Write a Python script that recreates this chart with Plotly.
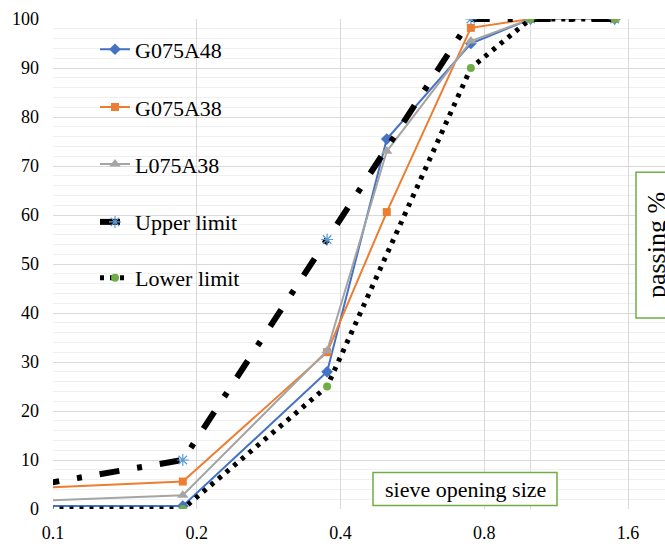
import math
import plotly.graph_objects as go

# sieve openings (x) and percent passing (y)
sieve = [0.0937, 0.187, 0.375, 0.5, 0.75, 1.0, 1.5]
g075a48 = [0.6, 0.6, 28, 75.5, 95, 100, 100]
g075a38 = [4.3, 5.6, 32, 60.6, 98.2, 100, 100]
l075a38 = [1.7, 2.8, 32.3, 73, 95.5, 100, 100]
limit_sieve = [0.0937, 0.187, 0.375, 0.75, 1.0, 1.5]
upper_limit = [5, 10, 55, 100, 100, 100]
lower_limit = [0, 0, 25, 90, 100, 100]

x_ticks = [0.1, 0.2, 0.4, 0.8, 1.6]
x_ticktext = ["0.1", "0.2", "0.4", "0.8", "1.6"]
y_ticks = list(range(0, 101, 10))

SERIF = "Times New Roman"

fig = go.Figure()
fig.add_trace(go.Scatter(x=sieve, y=g075a48, name="G075A48", mode="lines+markers",
                         line=dict(color="#4472C4", width=2),
                         marker=dict(symbol="diamond", size=9, color="#4472C4"),
                         legend="legend"))
fig.add_trace(go.Scatter(x=sieve, y=g075a38, name="G075A38", mode="lines+markers",
                         line=dict(color="#ED7D31", width=2),
                         marker=dict(symbol="square", size=8, color="#ED7D31"),
                         legend="legend2"))
fig.add_trace(go.Scatter(x=sieve, y=l075a38, name="L075A38", mode="lines+markers",
                         line=dict(color="#A5A5A5", width=2),
                         marker=dict(symbol="triangle-up", size=10, color="#A5A5A5"),
                         legend="legend3"))
fig.add_trace(go.Scatter(x=limit_sieve, y=upper_limit, name="Upper limit", mode="lines+markers",
                         line=dict(color="black", width=6, dash="20px,18px,5px,18px"),
                         marker=dict(symbol="asterisk-open", size=10, color="#5B9BD5",
                                     line=dict(color="#5B9BD5", width=1.2)),
                         legend="legend4"))
fig.add_trace(go.Scatter(x=limit_sieve, y=lower_limit, name="Lower limit", mode="lines+markers",
                         line=dict(color="black", width=5, dash="4px,6px"),
                         marker=dict(symbol="circle", size=8, color="#70AD47"),
                         legend="legend5"))

W, H = 665, 548
L, T, B, R = 53, 18.5, 38.5, 0
pw = W - L - R
ph = H - T - B

px_per_doubling = 143.75
x0 = math.log10(0.1)
x1 = x0 + (pw / px_per_doubling) * math.log10(2)

def py(ypx):
    return (H - B - ypx) / ph

def pxp(xpx):
    return (xpx - L) / pw

legend_common = dict(font=dict(family=SERIF, size=22, color="black"),
                     bgcolor="rgba(0,0,0,0)", borderwidth=0,
                     xanchor="left", yanchor="middle", x=pxp(95))
layout_legends = {}
for i, yc in enumerate([49, 107, 164, 222, 278]):
    key = "legend" if i == 0 else f"legend{i+1}"
    layout_legends[key] = dict(legend_common, y=py(yc))

fig.update_layout(
    width=W, height=H,
    margin=dict(l=L, r=R, t=T, b=B, pad=0, autoexpand=False),
    paper_bgcolor="white", plot_bgcolor="white",
    font=dict(family=SERIF, color="black"),
    xaxis=dict(type="log", range=[x0, x1], tickvals=x_ticks, ticktext=x_ticktext,
               showgrid=True, gridcolor="#d9d9d9", gridwidth=1, automargin=False,
               minor=dict(tickvals=[1.0], showgrid=True, gridcolor="#d9d9d9", ticks=""),
               showline=False, zeroline=False, ticks="",
               ticklabelstandoff=11,
               tickfont=dict(family=SERIF, size=18, color="black")),
    yaxis=dict(range=[0, 100], tickvals=y_ticks, showgrid=True, gridcolor="#d9d9d9",
               gridwidth=1, automargin=False,
               minor=dict(dtick=2, showgrid=True, gridcolor="#f0f0f0", ticks=""),
               showline=False, zeroline=False, ticks="", ticklabelstandoff=13,
               tickfont=dict(family=SERIF, size=18, color="black")),
    showlegend=True,
    **layout_legends,
)

# "sieve opening size" box
fig.add_shape(type="rect", xref="paper", yref="paper",
              x0=pxp(373), x1=pxp(557), y0=py(506), y1=py(473),
              line=dict(color="#70AD47", width=1.5), fillcolor="white", layer="above")
fig.add_annotation(text="sieve opening size", xref="paper", yref="paper",
                   x=pxp(465), y=py(489.5), xanchor="center", yanchor="middle",
                   showarrow=False, font=dict(family=SERIF, size=22, color="black"))
# "passing %" box
fig.add_shape(type="rect", xref="paper", yref="paper",
              x0=pxp(636), x1=pxp(676), y0=py(318), y1=py(172),
              line=dict(color="#70AD47", width=1.5), fillcolor="white", layer="above")
fig.add_annotation(text="passing %", xref="paper", yref="paper",
                   x=pxp(656), y=py(245), xanchor="center", yanchor="middle",
                   showarrow=False, textangle=-90,
                   font=dict(family=SERIF, size=26, color="black"))

fig.write_html("out.html", config={"displayModeBar": False},
               post_script="document.body.style.margin='0px';")
